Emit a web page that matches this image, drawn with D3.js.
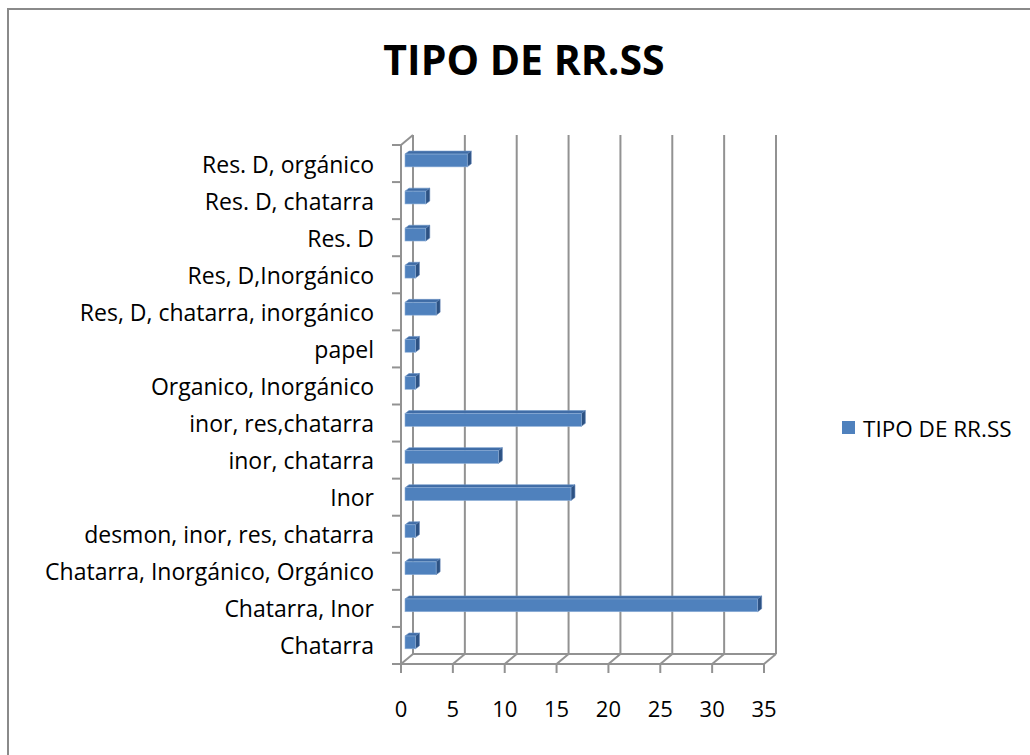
<!DOCTYPE html>
<html>
<head>
<meta charset="utf-8">
<script src="https://cdn.jsdelivr.net/npm/d3@7"></script>
<style>
  body { margin: 0; background: #fff; }
  text { font-family: "Open Sans", sans-serif; fill: #000; }
</style>
</head>
<body>
<script>
// categories, bottom to top as in the source sheet
var categories = ["Chatarra", "Chatarra, Inor", "Chatarra, Inorgánico, Orgánico",
  "desmon, inor, res, chatarra", "Inor", "inor, chatarra", "inor, res,chatarra",
  "Organico, Inorgánico", "papel", "Res, D, chatarra, inorgánico", "Res, D,Inorgánico",
  "Res. D", "Res. D, chatarra", "Res. D, orgánico"]
var values = [1, 34, 3, 1, 16, 9, 17, 1, 1, 3, 1, 2, 2, 6]
var xTicks = [0, 5, 10, 15, 20, 25, 30, 35]
var seriesName = "TIPO DE RR.SS"

var width = 1030, height = 755
var svg = d3.select("body").append("svg")
  .attr("width", width).attr("height", height)

// chart area border (right/bottom fall outside the picture)
svg.append("rect").attr("x", 8).attr("y", 9).attr("width", 1100).attr("height", 800)
  .attr("fill", "none").attr("stroke", "#8a8a8a").attr("stroke-width", 2)

// front plane scales
var x = d3.scaleLinear().domain([0, 35]).range([401, 764])
var y = d3.scaleBand().domain(categories).range([664, 145])
var dx = 12, dy = 10     // wall depth
var bx = 4, by = 3       // bar depth

var grid = svg.append("g").attr("stroke", "#929292").attr("stroke-width", 2).attr("fill", "none")

// back wall vertical gridlines
xTicks.forEach(function(t) {
  grid.append("line").attr("x1", x(t) + dx).attr("x2", x(t) + dx)
    .attr("y1", y.range()[1] - dy).attr("y2", y.range()[0] - dy)
  // floor diagonals
  grid.append("line").attr("x1", x(t)).attr("y1", 664).attr("x2", x(t) + dx).attr("y2", 664 - dy)
  // tick marks
  grid.append("line").attr("x1", x(t)).attr("x2", x(t)).attr("y1", 664).attr("y2", 673)
})
// floor back edge and front axis
grid.append("line").attr("x1", x(0) + dx).attr("x2", x(35) + dx).attr("y1", 664 - dy).attr("y2", 664 - dy)
grid.append("line").attr("x1", x(0)).attr("x2", x(35)).attr("y1", 664).attr("y2", 664)
// left wall
grid.append("line").attr("x1", x(0)).attr("x2", x(0)).attr("y1", 145).attr("y2", 664)
grid.append("line").attr("x1", x(0)).attr("y1", 145).attr("x2", x(0) + dx).attr("y2", 145 - dy)
// category ticks
var yTickPos = categories.map(function(c) { return y(c) }).concat([664])
yTickPos.forEach(function(p) {
  grid.append("line").attr("x1", x(0) - 9).attr("x2", x(0)).attr("y1", p).attr("y2", p)
})

// bars
var bh0 = y.bandwidth() * 0.245, bh1 = y.bandwidth() * 0.59
var bars = svg.append("g").selectAll("g").data(categories).enter().append("g")
bars.each(function(c, i) {
  var g = d3.select(this)
  var x0 = x(0) + bx, x1 = x(values[i]) + bx
  var y0 = y(c) + bh0, y1 = y(c) + bh1
  g.append("polygon")
    .attr("points", [[x0, y0], [x1, y0], [x1 + bx, y0 - by], [x0 + bx, y0 - by]].join(" "))
    .attr("fill", "#3f6ca6").attr("stroke", "#6d95c8").attr("stroke-width", 0.6)
  g.append("polygon")
    .attr("points", [[x1, y0], [x1 + bx, y0 - by], [x1 + bx, y1 - by], [x1, y1]].join(" "))
    .attr("fill", "#2d5283").attr("stroke", "#5a80b3").attr("stroke-width", 0.6)
  g.append("rect").attr("x", x0).attr("y", y0).attr("width", x1 - x0).attr("height", y1 - y0)
    .attr("fill", "#4f81bd").attr("stroke", "#8fb0d8").attr("stroke-width", 0.6)
})

// category labels
svg.append("g").selectAll("text").data(categories).enter().append("text")
  .attr("x", 374).attr("y", function(c) { return y(c) + y.bandwidth() / 2 })
  .attr("text-anchor", "end").attr("dominant-baseline", "central")
  .style("font-size", "23px")
  .text(function(c) { return c })

// x tick labels
svg.append("g").selectAll("text").data(xTicks).enter().append("text")
  .attr("x", function(t) { return x(t) }).attr("y", 708)
  .attr("text-anchor", "middle").attr("dominant-baseline", "central")
  .style("font-size", "22px")
  .text(function(t) { return t })

// title
svg.append("text").attr("x", 524).attr("y", 75).attr("text-anchor", "middle")
  .style("font-size", "41px").style("font-weight", "bold")
  .text(seriesName)

// legend
svg.append("rect").attr("x", 842).attr("y", 421).attr("width", 13).attr("height", 13).attr("fill", "#4f81bd")
svg.append("text").attr("x", 863).attr("y", 428).attr("dominant-baseline", "central")
  .style("font-size", "22.5px").text(seriesName)
</script>
</body>
</html>
